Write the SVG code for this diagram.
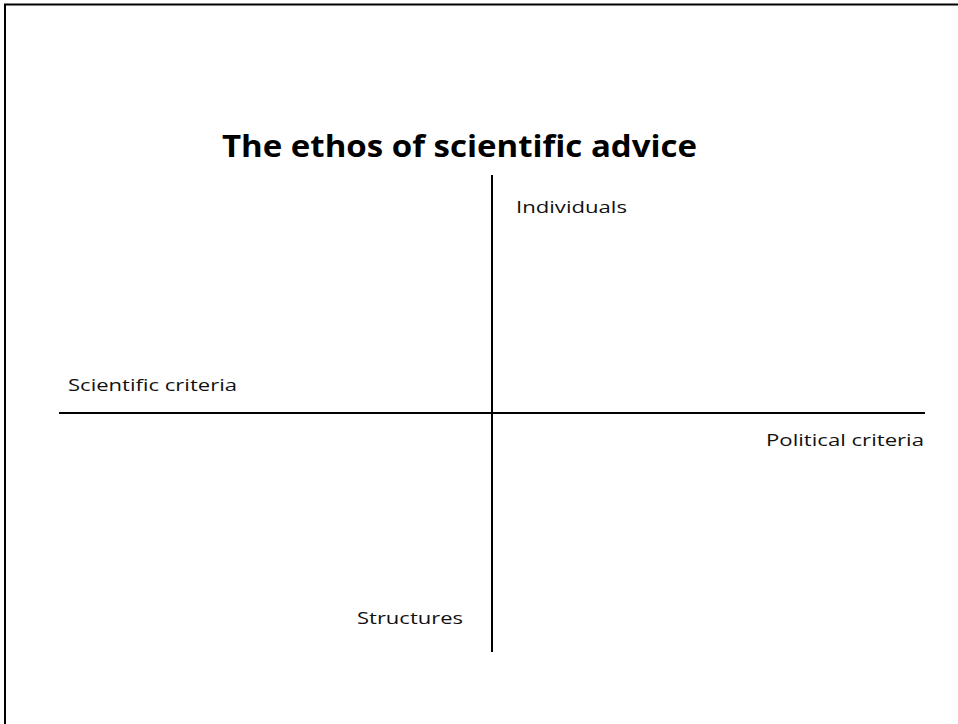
<svg xmlns="http://www.w3.org/2000/svg" width="958" height="724" viewBox="0 0 958 724">
<style>
.lbl{font-family:"Open Sans","Liberation Sans",sans-serif;font-size:17px;fill:#111}
.ttl{font-family:"Open Sans","Liberation Sans",sans-serif;font-size:31px;font-weight:bold;fill:#000}
.ax{stroke:#000;stroke-width:2;fill:none}
</style>
<rect width="958" height="724" fill="#fff"/>
<path d="M5,724 V4.5 H958" stroke="#000" stroke-width="2" fill="none"/>
<text id="title" class="ttl" x="222" y="157" textLength="475" lengthAdjust="spacingAndGlyphs">The ethos of scientific advice</text>
<g id="connectors">
<line class="ax" x1="492" y1="175" x2="492" y2="652"/>
<line class="ax" x1="59" y1="413" x2="925" y2="413"/>
</g>
<g id="individuals"><text class="lbl" x="516" y="213" textLength="111" lengthAdjust="spacingAndGlyphs">Individuals</text></g>
<g id="scientific"><text class="lbl" x="68" y="391" textLength="169" lengthAdjust="spacingAndGlyphs">Scientific criteria</text></g>
<g id="political"><text class="lbl" x="766" y="446" textLength="158" lengthAdjust="spacingAndGlyphs">Political criteria</text></g>
<g id="structures"><text class="lbl" x="357" y="624" textLength="106" lengthAdjust="spacingAndGlyphs">Structures</text></g>
</svg>
